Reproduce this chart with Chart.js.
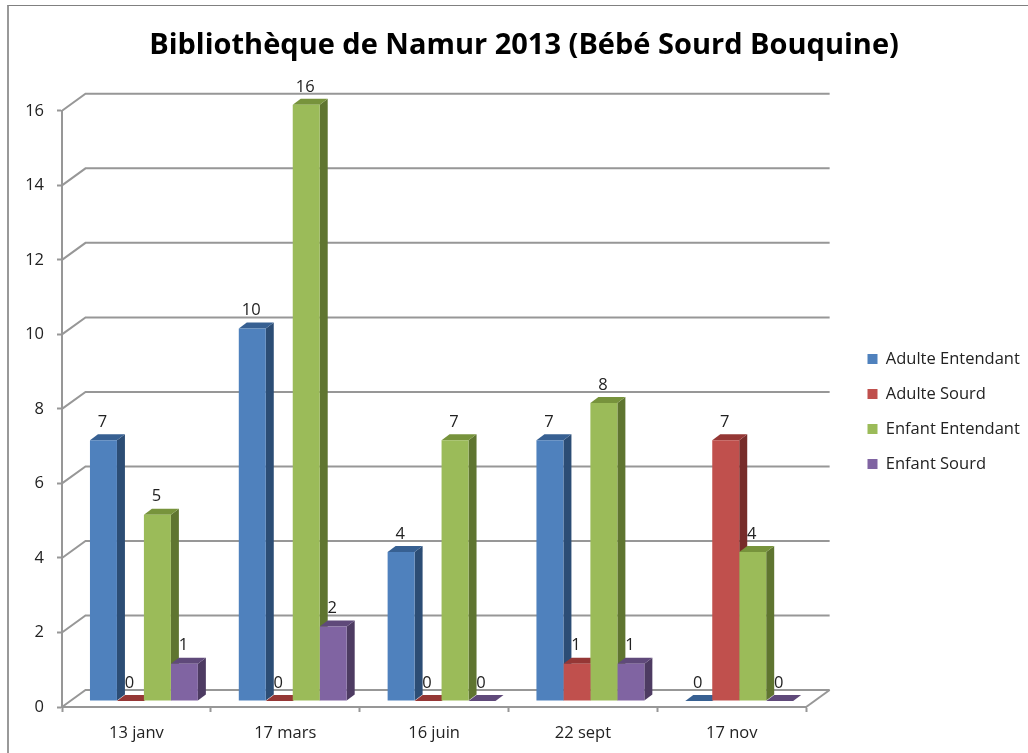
<!DOCTYPE html>
<html>
<head>
<meta charset="utf-8">
<style>
html,body{margin:0;padding:0;background:#fff;overflow:hidden}
#wrap{position:absolute;left:0;top:0;width:1028px;height:753px}
#frame{position:absolute;left:7px;top:5px;width:1040px;height:780px;border-left:2px solid #999;border-top:1px solid #808080;box-sizing:border-box}
canvas{position:absolute;left:0;top:0}
</style>
<script src="https://cdn.jsdelivr.net/npm/chart.js@4/dist/chart.umd.min.js"></script>
</head>
<body>
<div id="wrap"><div id="frame"></div><canvas id="c" width="1028" height="753"></canvas></div>
<script>
const titleText = "Bibliothèque de Namur 2013 (Bébé Sourd Bouquine)";
const categories = ["13 janv", "17 mars", "16 juin", "22 sept", "17 nov"];
const adulteEntendant = [7, 10, 4, 7, 0];
const adulteSourd = [0, 0, 0, 1, 7];
const enfantEntendant = [5, 16, 7, 8, 4];
const enfantSourd = [1, 2, 0, 1, 0];
const seriesNames = ["Adulte Entendant", "Adulte Sourd", "Enfant Entendant", "Enfant Sourd"];
const frontColors = ["#4f81bd", "#c0504d", "#9bbb59", "#8064a2"];
const topColors = ["#376092", "#953735", "#77933c", "#5f497a"];
const sideColors = ["#2c4d75", "#772c2a", "#5f7530", "#4d3b62"];
const tickValues = [0, 2, 4, 6, 8, 10, 12, 14, 16];

const FONT = "'Open Sans'";
const TXT = "#222";
const GRID = "#979797";
const DX = 8, DY = 6;            // bar depth
const WALL_X = 23.5, WALL_Y = 17;  // wall offset

const plugin3d = {
  id: "plugin3d",
  afterLayout(chart) {
    const t = chart.titleBlock;
    t.left = 0; t.right = 1048;
    const l = chart.legend;
    const dx = 849 - l.left, dy = 35;
    l.left += dx; l.right += dx; l.top += dy; l.bottom += dy;
  },
  beforeDatasetsDraw(chart) {
    const { ctx, scales: { x, y } } = chart;
    ctx.save();
    ctx.strokeStyle = GRID;
    ctx.lineWidth = 2;
    tickValues.forEach(v => {
      const py = y.getPixelForValue(v);
      ctx.beginPath();
      ctx.moveTo(x.left, py);
      ctx.lineTo(x.left + WALL_X, py - WALL_Y);
      ctx.lineTo(x.right + WALL_X, py - WALL_Y);
      ctx.stroke();
    });
    const base = y.getPixelForValue(0);
    ctx.beginPath();
    ctx.moveTo(x.right, base);
    ctx.lineTo(x.right + WALL_X, base - WALL_Y);
    ctx.stroke();
    ctx.translate(7.5, -6);
    chart.data.datasets.forEach((ds, di) => {
      chart.getDatasetMeta(di).data.forEach(b => {
        const l = b.x - b.width / 2, r = b.x + b.width / 2;
        ctx.fillStyle = sideColors[di];
        ctx.beginPath();
        ctx.moveTo(r, b.y); ctx.lineTo(r + DX, b.y - DY);
        ctx.lineTo(r + DX, b.base - DY); ctx.lineTo(r, b.base);
        ctx.closePath(); ctx.fill();
        ctx.fillStyle = topColors[di];
        ctx.beginPath();
        ctx.moveTo(l, b.y); ctx.lineTo(l + DX, b.y - DY);
        ctx.lineTo(r + DX, b.y - DY); ctx.lineTo(r, b.y);
        ctx.closePath(); ctx.fill();
      });
    });
  },
  afterDatasetsDraw(chart) {
    const { ctx } = chart;
    ctx.restore();
    ctx.save();
    ctx.font = "16.5px " + FONT;
    ctx.fillStyle = TXT;
    ctx.textAlign = "center";
    ctx.textBaseline = "middle";
    chart.data.datasets.forEach((ds, di) => {
      chart.getDatasetMeta(di).data.forEach((b, i) => {
        ctx.fillText(String(ds.data[i]), b.x + 6.5, b.y - 24);
      });
    });
    ctx.restore();
  }
};

const allSeries = [adulteEntendant, adulteSourd, enfantEntendant, enfantSourd];

new Chart(document.getElementById("c"), {
  type: "bar",
  data: {
    labels: categories,
    datasets: allSeries.map((d, i) => ({
      label: seriesNames[i],
      data: d,
      backgroundColor: frontColors[i],
      borderWidth: 0,
      clip: false,
      barPercentage: 1,
      categoryPercentage: 0.725
    }))
  },
  options: {
    responsive: false,
    animation: false,
    devicePixelRatio: 1,
    layout: { padding: { left: 0, right: 41, top: 0, bottom: 0 } },
    plugins: {
      title: {
        display: true,
        text: titleText,
        color: "#000",
        font: { family: FONT, size: 29, weight: "bold" },
        padding: { top: 28, bottom: 48 }
      },
      legend: {
        position: "right",
        labels: {
          color: TXT,
          font: { family: FONT, size: 16.5 },
          boxWidth: 10,
          boxHeight: 10,
          padding: 18.5
        }
      },
      tooltip: { enabled: false }
    },
    scales: {
      x: {
        grid: { offset: true, drawOnChartArea: false, tickLength: 5, tickColor: GRID, tickWidth: 2 },
        border: { color: GRID, width: 2 },
        ticks: { color: TXT, font: { family: FONT, size: 16.5 }, padding: 11, maxRotation: 0 },
        afterFit(s) { s.height = 46; }
      },
      y: {
        min: 0, max: 16,
        grid: { drawOnChartArea: false, tickLength: 5, tickColor: GRID, tickWidth: 2 },
        border: { color: GRID, width: 2 },
        ticks: { color: TXT, font: { family: FONT, size: 16.5 }, padding: 13, stepSize: 2 },
        afterFit(s) { s.width = 62; }
      }
    }
  },
  plugins: [plugin3d]
});
</script>
</body>
</html>
